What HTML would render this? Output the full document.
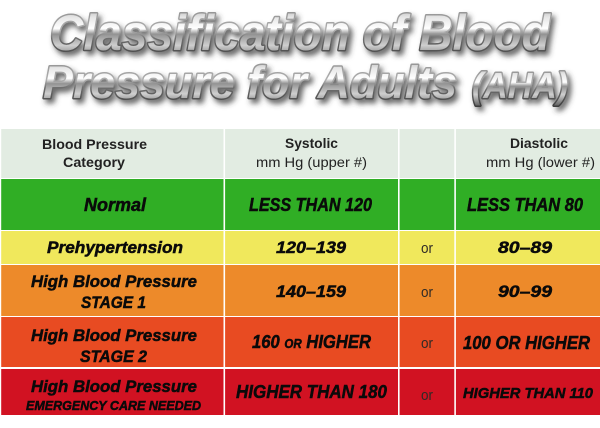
<!DOCTYPE html>
<html><head><meta charset="utf-8"><style>
html,body{margin:0;padding:0;background:#fff;width:600px;height:428px;overflow:hidden}
svg{display:block}
</style></head><body>
<svg width="600" height="428" viewBox="0 0 600 428" xmlns="http://www.w3.org/2000/svg">
<defs>
<linearGradient id="chrome" x1="0" y1="0" x2="0" y2="1">
<stop offset="0" stop-color="#a8a8a8"/>
<stop offset="0.22" stop-color="#e6e6e6"/>
<stop offset="0.42" stop-color="#ffffff"/>
<stop offset="0.52" stop-color="#929292"/>
<stop offset="0.72" stop-color="#cfcfcf"/>
<stop offset="1" stop-color="#5e5e5e"/>
</linearGradient>
<linearGradient id="chromeS" x1="0" y1="0" x2="0" y2="1">
<stop offset="0" stop-color="#8c8c8c"/>
<stop offset="0.45" stop-color="#b0b0b0"/>
<stop offset="0.6" stop-color="#6e6e6e"/>
<stop offset="1" stop-color="#3c3c3c"/>
</linearGradient>
<filter id="sh" x="-10%" y="-30%" width="120%" height="170%">
<feGaussianBlur in="SourceAlpha" stdDeviation="2.6"/>
<feOffset dx="3" dy="4" result="b"/>
<feFlood flood-color="#3a3a3a" flood-opacity="0.75"/>
<feComposite in2="b" operator="in" result="s"/>
<feMerge><feMergeNode in="s"/><feMergeNode in="SourceGraphic"/></feMerge>
</filter>
</defs>

<!-- Title -->
<g filter="url(#sh)" font-family="Liberation Sans, sans-serif" font-weight="bold" font-style="italic" fill="url(#chrome)" stroke="url(#chromeS)" stroke-width="3" paint-order="stroke fill" stroke-linejoin="round">
<text x="50" y="50" font-size="50" textLength="500" lengthAdjust="spacingAndGlyphs">Classification of Blood</text>
<text x="43" y="98" font-size="45" textLength="414" lengthAdjust="spacingAndGlyphs">Pressure for Adults</text>
<text x="472" y="98" font-size="36" textLength="96" lengthAdjust="spacingAndGlyphs">(AHA)</text>
</g>

<!-- Table backgrounds -->
<rect x="1" y="129" width="599" height="49" fill="#e2ece2"/>
<rect x="1" y="179" width="599" height="51" fill="#30ae25"/>
<rect x="1" y="231" width="599" height="33" fill="#f0e85c"/>
<rect x="1" y="265" width="599" height="51" fill="#ed8a2a"/>
<rect x="1" y="317" width="599" height="50" fill="#e84b22"/>
<rect x="1" y="369" width="599" height="46" fill="#d11222"/>
<!-- vertical separators -->
<rect x="223.5" y="129" width="1.6" height="286" fill="#fff"/>
<rect x="398" y="129" width="1.6" height="286" fill="#fff"/>
<rect x="454.3" y="129" width="1.6" height="286" fill="#fff"/>
<rect x="0" y="129" width="1.2" height="286" fill="#fff"/>

<!-- Header text -->
<g font-family="Liberation Sans, sans-serif" fill="#222">
<text x="42" y="149" font-size="14" font-weight="bold" textLength="105" lengthAdjust="spacingAndGlyphs">Blood Pressure</text>
<text x="63" y="167" font-size="14" font-weight="bold" textLength="62" lengthAdjust="spacingAndGlyphs">Category</text>
<text x="285" y="148" font-size="14" font-weight="bold" textLength="53" lengthAdjust="spacingAndGlyphs">Systolic</text>
<text x="256" y="167" font-size="13.5" textLength="111" lengthAdjust="spacingAndGlyphs">mm Hg (upper #)</text>
<text x="510" y="148" font-size="14" font-weight="bold" textLength="58" lengthAdjust="spacingAndGlyphs">Diastolic</text>
<text x="486" y="167" font-size="13.5" textLength="109" lengthAdjust="spacingAndGlyphs">mm Hg (lower #)</text>
</g>

<!-- Body text -->
<g font-family="Liberation Sans, sans-serif" font-weight="bold" font-style="italic" fill="#0a0a0a" stroke="#0a0a0a" stroke-width="0.5">
<text x="84" y="211" font-size="18" textLength="62" lengthAdjust="spacingAndGlyphs">Normal</text>
<text x="249" y="211" font-size="18" textLength="123" lengthAdjust="spacingAndGlyphs">LESS THAN 120</text>
<text x="467" y="211" font-size="18" textLength="116" lengthAdjust="spacingAndGlyphs">LESS THAN 80</text>

<text x="47" y="253" font-size="17" textLength="136" lengthAdjust="spacingAndGlyphs">Prehypertension</text>
<text x="276" y="253" font-size="17" textLength="70" lengthAdjust="spacingAndGlyphs">120–139</text>
<text x="498" y="253" font-size="17" textLength="54" lengthAdjust="spacingAndGlyphs">80–89</text>

<text x="31" y="287" font-size="17" textLength="166" lengthAdjust="spacingAndGlyphs">High Blood Pressure</text>
<text x="81" y="308" font-size="17" textLength="65" lengthAdjust="spacingAndGlyphs">STAGE 1</text>
<text x="276" y="297" font-size="17" textLength="70" lengthAdjust="spacingAndGlyphs">140–159</text>
<text x="498" y="297" font-size="17" textLength="54" lengthAdjust="spacingAndGlyphs">90–99</text>

<text x="31" y="341" font-size="17" textLength="166" lengthAdjust="spacingAndGlyphs">High Blood Pressure</text>
<text x="80" y="362" font-size="17" textLength="67" lengthAdjust="spacingAndGlyphs">STAGE 2</text>
<text x="252" y="348" font-size="18" textLength="119" lengthAdjust="spacingAndGlyphs">160 <tspan font-size="12.5">OR</tspan> HIGHER</text>
<text x="463" y="349" font-size="18" textLength="127" lengthAdjust="spacingAndGlyphs">100 OR HIGHER</text>

<text x="31" y="392" font-size="17" textLength="166" lengthAdjust="spacingAndGlyphs">High Blood Pressure</text>
<text x="26" y="410" font-size="13" textLength="175" lengthAdjust="spacingAndGlyphs">EMERGENCY CARE NEEDED</text>
<text x="236" y="398" font-size="18" textLength="151" lengthAdjust="spacingAndGlyphs">HIGHER THAN 180</text>
<text x="463" y="398" font-size="15" textLength="130" lengthAdjust="spacingAndGlyphs">HIGHER THAN 110</text>
</g>

<!-- "or" -->
<g font-family="Liberation Sans, sans-serif" font-size="15" fill="#2e2a26">
<text x="421" y="253" textLength="12" lengthAdjust="spacingAndGlyphs">or</text>
<text x="421" y="297" textLength="12" lengthAdjust="spacingAndGlyphs">or</text>
<text x="421" y="348" textLength="12" lengthAdjust="spacingAndGlyphs">or</text>
<text x="421" y="400" textLength="12" lengthAdjust="spacingAndGlyphs">or</text>
</g>
</svg>
</body></html>
